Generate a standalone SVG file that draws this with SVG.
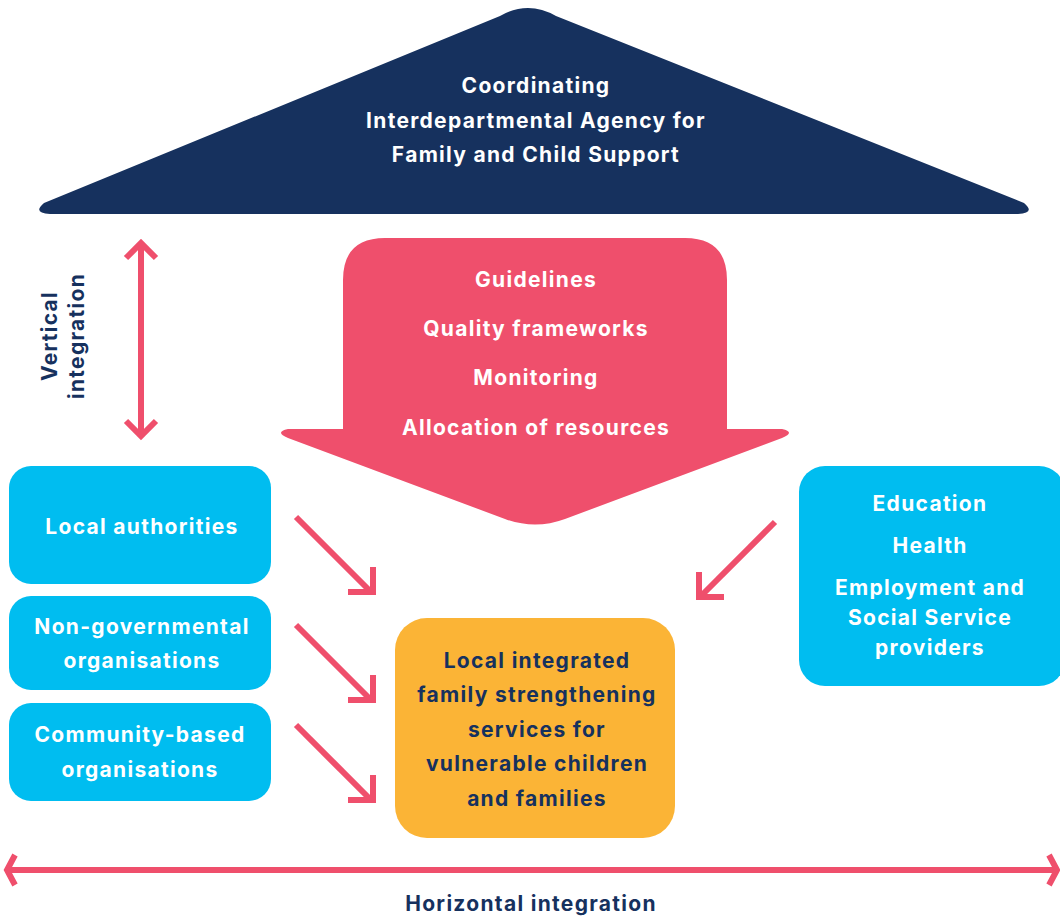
<svg xmlns="http://www.w3.org/2000/svg" width="1060" height="916" viewBox="0 0 1060 916">
<style>
.t{font-family:Inter,"Liberation Sans",sans-serif;font-weight:700;text-anchor:middle;letter-spacing:1.3px}
.w{fill:#ffffff;font-size:21px}
.n{fill:#16315e;font-size:21px}
.cy{fill:#00bdf0}
.ar{fill:none;stroke:#ef4f6c;stroke-width:6}
</style>
<rect width="1060" height="916" fill="#ffffff"/>
<g id="agency">
<path d="M 50,214 L 1018,214 Q 1036,213 1024,203 L 556,16 Q 528,0 500,16 L 44,203 Q 32,213 50,214 Z" fill="#16315e"/>
<text class="t w" x="536" y="93">Coordinating</text>
<text class="t w" x="536" y="128">Interdepartmental Agency for</text>
<text class="t w" x="536" y="162">Family and Child Support</text>
</g>
<g id="guidance">
<path d="M 343,280 Q 343,238 385,238 L 685,238 Q 727,238 727,280 L 727,429 L 782,429 Q 796,432 782,438 L 565,519 Q 535,530 505,519 L 288,438 Q 274,432 288,429 L 343,429 Z" fill="#ef4f6c"/>
<text class="t w" x="536" y="287">Guidelines</text>
<text class="t w" x="536" y="336">Quality frameworks</text>
<text class="t w" x="536" y="385">Monitoring</text>
<text class="t w" x="536" y="435">Allocation of resources</text>
</g>
<g id="vertical-label">
<text class="t n" font-size="20" transform="translate(57,336) rotate(-90)">Vertical</text>
<text class="t n" font-size="20" transform="translate(84,336) rotate(-90)">integration</text>
</g>
<g id="local-authorities">
<rect class="cy" x="9" y="466" width="262" height="118" rx="22"/>
<text class="t w" x="142" y="534">Local authorities</text>
</g>
<g id="ngos">
<rect class="cy" x="9" y="596" width="262" height="94" rx="22"/>
<text class="t w" x="142" y="634">Non-governmental</text>
<text class="t w" x="142" y="668">organisations</text>
</g>
<g id="cbos">
<rect class="cy" x="9" y="703" width="262" height="98" rx="22"/>
<text class="t w" x="140" y="742">Community-based</text>
<text class="t w" x="140" y="777">organisations</text>
</g>
<g id="providers">
<rect class="cy" x="799" y="466" width="266" height="220" rx="26"/>
<text class="t w" x="930" y="511">Education</text>
<text class="t w" x="930" y="553">Health</text>
<text class="t w" x="930" y="595">Employment and</text>
<text class="t w" x="930" y="625">Social Service</text>
<text class="t w" x="930" y="655">providers</text>
</g>
<g id="services">
<rect x="395" y="618" width="280" height="220" rx="32" fill="#fbb436"/>
<text class="t n" x="537" y="668">Local integrated</text>
<text class="t n" x="537" y="702">family strengthening</text>
<text class="t n" x="537" y="737">services for</text>
<text class="t n" x="537" y="771">vulnerable children</text>
<text class="t n" x="537" y="806">and families</text>
</g>
<g id="connectors">
<line class="ar" x1="141" y1="243" x2="141" y2="436"/>
<polyline class="ar" points="126,258 141,243 156,258"/>
<polyline class="ar" points="126,421 141,436 156,421"/>
<line class="ar" x1="296" y1="517" x2="370" y2="591"/>
<polyline class="ar" points="348,592 373,592 373,567"/>
<line class="ar" x1="296" y1="625" x2="370" y2="699"/>
<polyline class="ar" points="348,700 373,700 373,675"/>
<line class="ar" x1="296" y1="725" x2="370" y2="799"/>
<polyline class="ar" points="348,800 373,800 373,775"/>
<line class="ar" x1="775" y1="522" x2="702" y2="595"/>
<polyline class="ar" points="724,597 699,597 699,572"/>
<line class="ar" x1="8" y1="870" x2="1056" y2="870"/>
<polyline class="ar" points="15,855 7,870 15,885"/>
<polyline class="ar" points="1049,855 1057,870 1049,885"/>
</g>
<g id="horizontal-label">
<text class="t n" font-size="20" x="531" y="911">Horizontal integration</text>
</g>
</svg>
